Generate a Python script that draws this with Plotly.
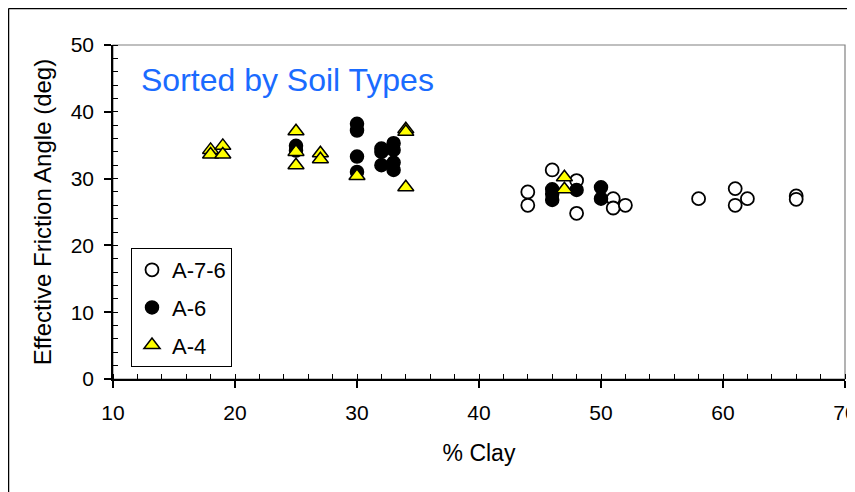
import plotly.graph_objects as go

# A-7-6 (open circles)
a76_clay = [44, 44, 46, 48, 48, 51, 51, 52, 58, 61, 61, 62, 66, 66]
a76_phi = [28.0, 26.0, 31.3, 29.7, 24.8, 27.0, 25.6, 26.0, 27.0, 28.5, 26.0, 27.0, 27.4, 26.9]

# A-6 (filled circles)
a6_clay = [25, 25, 30, 30, 30, 30, 32, 32, 32, 33, 33, 33, 33, 46, 46, 46, 48, 50, 50]
a6_phi = [34.9, 34.2, 38.2, 37.2, 33.3, 31.0, 34.5, 34.0, 32.0, 35.3, 34.3, 32.4, 31.3, 28.4, 27.7, 26.8, 28.3, 28.7, 27.0]

# A-4 (yellow triangles)
a4_clay = [18, 18, 19, 19, 25, 25, 25, 27, 27, 30, 34, 34, 34, 47, 47]
a4_phi = [34.3, 33.6, 34.9, 33.6, 37.1, 34.0, 32.0, 33.8, 32.9, 30.4, 37.4, 37.0, 28.7, 30.2, 28.4]

x_ticks = [10, 20, 30, 40, 50, 60, 70]
y_ticks = [0, 10, 20, 30, 40, 50]

FONT = "Liberation Sans, Arial, sans-serif"

fig = go.Figure()
fig.add_trace(go.Scatter(x=a76_clay, y=a76_phi, mode="markers", name="A-7-6",
                         legendgroup="a",
                         marker=dict(symbol="circle", size=13, color="white",
                                     line=dict(color="black", width=1.8))))
fig.add_trace(go.Scatter(x=a6_clay, y=a6_phi, mode="markers", name="A-6",
                         legendgroup="b",
                         marker=dict(symbol="circle", size=13, color="black",
                                     line=dict(color="black", width=1.5))))
fig.add_trace(go.Scatter(x=a4_clay, y=a4_phi, mode="markers", name="A-4",
                         legendgroup="c",
                         marker=dict(symbol="triangle-up", size=14, color="#ffff00",
                                     line=dict(color="black", width=1.5))))

# page body has an 8px margin; figure sized to fit the 855x492 window
OFF = 8
W, H = 855 - OFF, 492 - OFF
L, T = 113 - OFF, 45 - OFF
pw, ph = 732, 334
R = W - L - pw
B = H - T - ph

def px_x(p):  # page pixel -> paper
    return (p - OFF - L) / pw

def px_y(p):
    return (T + ph - (p - OFF)) / ph

shapes = [
    dict(type="line", xref="paper", yref="paper", x0=px_x(OFF + 0.5), x1=px_x(900),
         y0=px_y(OFF + 0.5), y1=px_y(OFF + 0.5), line=dict(color="black", width=1.5)),
    dict(type="line", xref="paper", yref="paper", x0=px_x(OFF + 0.5), x1=px_x(OFF + 0.5),
         y0=px_y(OFF + 0.5), y1=px_y(520), line=dict(color="black", width=1.5)),
    dict(type="rect", xref="paper", yref="paper", x0=0, x1=1, y0=0, y1=1,
         line=dict(color="#808080", width=1.2), layer="below"),
]

fig.update_layout(
    width=W, height=H,
    margin=dict(l=L, r=R, t=T, b=B, autoexpand=False),
    paper_bgcolor="white", plot_bgcolor="white",
    font=dict(family=FONT, color="black", size=21),
    showlegend=True,
    legend=dict(x=px_x(131), y=px_y(248), xanchor="left", yanchor="top",
                bordercolor="black", borderwidth=1, bgcolor="white",
                font=dict(family=FONT, size=22, color="black"),
                tracegroupgap=6, itemwidth=30, traceorder="grouped"),
    shapes=shapes,
    annotations=[dict(text="Sorted by Soil Types", xref="paper", yref="paper",
                      x=px_x(139), y=px_y(80), xanchor="left", yanchor="middle",
                      showarrow=False, font=dict(family=FONT, size=32, color="#1a6bff"))],
    xaxis=dict(range=[10, 70], tickvals=x_ticks, ticks="outside", ticklen=7,
               tickwidth=1.5, tickcolor="black", showline=True, linecolor="black",
               linewidth=1.5, showgrid=False, zeroline=False, automargin=False,
               tickfont=dict(size=21), ticklabelstandoff=7, ticklabeloverflow="allow",
               minor=dict(dtick=2, ticks="inside", ticklen=5, tickwidth=1.2,
                          tickcolor="black", showgrid=False),
               title=dict(text="% Clay", font=dict(size=23), standoff=22)),
    yaxis=dict(range=[0, 50], tickvals=y_ticks, ticks="outside", ticklen=7,
               tickwidth=1.5, tickcolor="black", showline=True, linecolor="black",
               linewidth=1.5, showgrid=False, zeroline=False, automargin=False,
               tickfont=dict(size=21), ticklabelstandoff=6, ticklabeloverflow="allow",
               minor=dict(dtick=2, ticks="inside", ticklen=5, tickwidth=1.2,
                          tickcolor="black", showgrid=False),
               title=dict(text="Effective Friction Angle (deg)", font=dict(size=24), standoff=12)),
)

fig.write_html("out.html")
